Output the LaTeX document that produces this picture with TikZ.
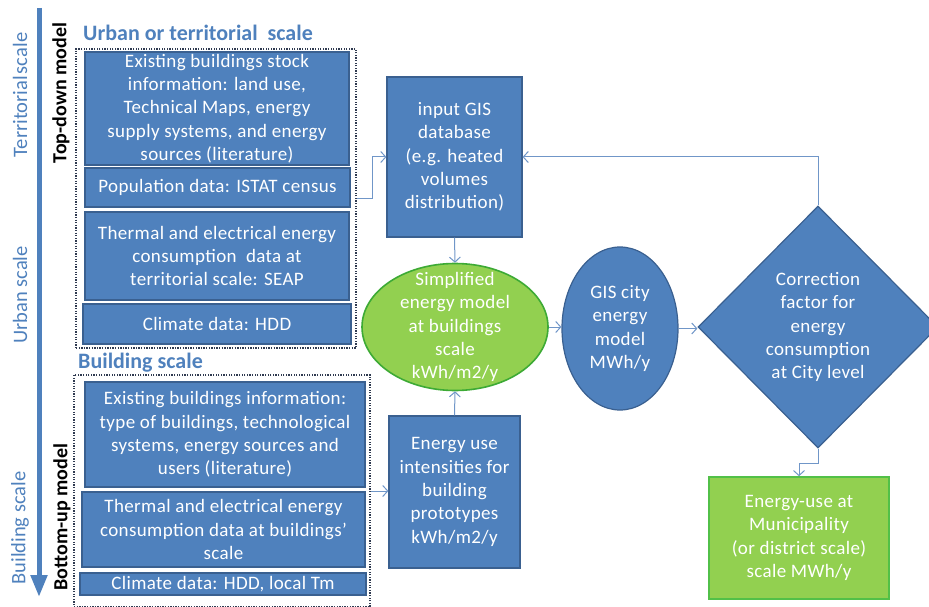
\documentclass[tikz,border=0pt]{standalone}
\usepackage{fontspec}
\setmainfont{Carlito}
\newfontfamily\boxfont[LetterSpace=2.0]{Carlito}
\usetikzlibrary{shapes.geometric,arrows.meta,calc}
\definecolor{obl}{HTML}{4F81BD}
\definecolor{obd}{HTML}{3A6090}
\definecolor{ogr}{HTML}{92D050}
\definecolor{ogd}{HTML}{3DAA35}
\definecolor{ogb}{HTML}{52C048}
\definecolor{lin}{HTML}{7096C8}
\definecolor{dotc}{HTML}{2F3A50}
\begin{document}
\begin{tikzpicture}[x=1pt,y=-1pt,
  every node/.style={font=\boxfont\fontsize{19}{23.3}\selectfont},
  bbox/.style={rectangle, draw=obd, fill=obl, line width=1.2pt, text=white, align=center, inner sep=0pt},
  gellipse/.style={ellipse, draw=ogd, fill=ogr, line width=1.6pt, text=white, align=center},
  bellipse/.style={ellipse, draw=obd, fill=obl, line width=1.2pt, text=white, align=center},
  gbox/.style={rectangle, draw=ogb, fill=ogr, line width=1.6pt, text=white, align=center, inner sep=0pt},
  dotbox/.style={rectangle, draw=dotc, line width=1.3pt, dash pattern=on 1.3pt off 1.3pt, inner sep=0pt},
  conn/.style={draw=lin, line width=1pt, -{Straight Barb[length=5pt,width=11pt]}},
  sidelabel/.style={rotate=90, text=obl, font=\rmfamily\fontsize{20.5}{24}\selectfont},
  modellabel/.style={rotate=90, text=black, font=\rmfamily\fontsize{20}{24}\selectfont\bfseries},
  titlelabel/.style={anchor=west, text=obl, font=\rmfamily\fontsize{22}{26}\selectfont\bfseries, inner sep=0pt}
]
\useasboundingbox (0,0) rectangle (929,607);

% left scale arrow
\coordinate (atop) at (39,8);
\coordinate (abot) at (39,597);
\draw[line width=5pt, draw=obl, -{Triangle[width=16pt,length=22pt]}] (atop) -- (abot);
\node[sidelabel] (lterr) at (20,95) {Territorial\hspace{2pt}scale};
\node[sidelabel] (lurb) at (20,295) {Urban scale};
\node[sidelabel] (lbld) at (20,528) {Building scale};
\node[modellabel] (ltop) at (61,93) {Top-down model};
\node[modellabel] (lbot) at (62,517) {Bottom-up model};

% titles
\node[titlelabel] (t1) at (83,33) {Urban or territorial\ \ scale};
\node[titlelabel] (t2) at (78,363) {Building scale};

% dotted groups
\node[dotbox, minimum width=280pt, minimum height=299pt] (tdbox) at (216,198.5) {};
\node[dotbox, minimum width=296pt, minimum height=232pt] (bubox) at (222,491) {};

% top-down boxes
\node[bbox, minimum width=264pt, minimum height=113pt] (b1) at (217,108.5)
  {Existing buildings stock\\information: land use,\\Technical Maps, energy\\supply systems, and energy\\sources (literature)};
\node[bbox, minimum width=265pt, minimum height=39pt] (b2) at (217.5,187.5)
  {Population data: ISTAT census};
\node[bbox, minimum width=264pt, minimum height=88pt] (b3) at (217,256)
  {Thermal and electrical energy\\consumption\ \ data at\\territorial scale: SEAP};
\node[bbox, minimum width=268pt, minimum height=40pt] (b4) at (217,324)
  {Climate data: HDD};

% bottom-up boxes
\node[bbox, minimum width=280pt, minimum height=105pt] (b5) at (225,434.5)
  {Existing buildings information:\\type of buildings, technological\\systems, energy sources and\\users (literature)};
\node[bbox, minimum width=283pt, minimum height=75pt] (b6) at (223.5,529.5)
  {Thermal and electrical energy\\consumption data at buildings’\\scale};
\node[bbox, minimum width=286pt, minimum height=22pt] (b7) at (223,584)
  {Climate data: HDD, local Tm};

% middle column
\node[bbox, minimum width=135pt, minimum height=160pt] (gis) at (454.5,157)
  {input GIS\\database\\(e.g. heated\\volumes\\distribution)};
\node[gellipse, minimum width=186pt, minimum height=127pt, inner sep=-16pt] (simp) at (455,327)
  {Simplified\\energy model\\at buildings\\scale\\kWh/m2/y};
\node[bbox, minimum width=131pt, minimum height=152pt] (eu) at (454.5,492)
  {Energy use\\intensities for\\building\\prototypes\\kWh/m2/y};

% right part
\node[bellipse, minimum width=116pt, minimum height=163pt, inner sep=0pt] (city) at (620,328.5)
  {GIS city\\energy\\model\\MWh/y};
\node[diamond, draw=obd, fill=obl, line width=1.2pt, text=white, align=center,
      minimum width=240pt, minimum height=242pt, inner sep=0pt] (dia) at (818,327)
  {Correction\\factor for\\energy\\consumption\\at City level};
\node[gbox, minimum width=180pt, minimum height=122pt] (muni) at (799,538)
  {Energy-use at\\Municipality\\(or district scale)\\scale MWh/y};

% connectors
\draw[conn] (tdbox.east) -- ++(16,0) |- (gis.west);
\draw[conn] (dia.north) |- (gis.east);
\draw[conn] (gis.south) -- (simp.north);
\draw[conn] (eu.north) -- (simp.south);
\draw[conn] (bubox.east) -- (eu.west |- bubox.east);
\draw[conn] (simp.east) -- (city.west |- simp.east);
\draw[conn] (city.east) -- (dia.west |- city.east);
\draw[conn] (dia.south) -- ++(0,15) -| (muni.north);
\end{tikzpicture}
\end{document}
